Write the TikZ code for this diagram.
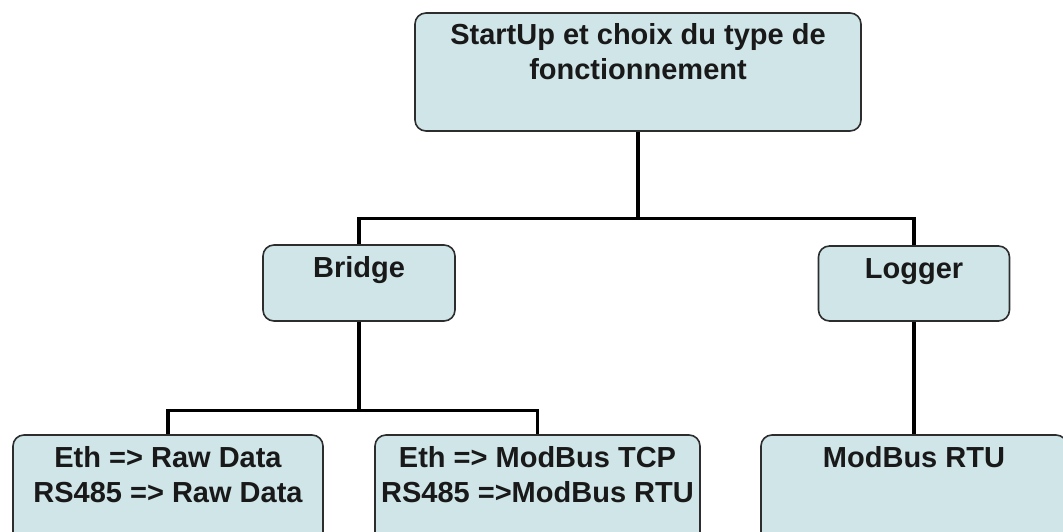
\documentclass[tikz,border=0pt]{standalone}
\usepackage{fontspec}
\setmainfont{Liberation Sans}
\definecolor{boxfill}{RGB}{207,229,232}
\definecolor{boxline}{RGB}{45,45,45}
\newcommand{\bxt}[3]{\parbox[c][#2][t]{#1}{\centering\rule{0pt}{32pt}#3}}
\tikzset{
  box/.style={draw=boxline, line width=1.6pt, fill=boxfill, rounded corners=11pt,
    inner sep=0pt, text=black!90, font=\bfseries\fontsize{29}{35}\selectfont},
  conn/.style={line width=3.3pt, black}
}
\begin{document}
\begin{tikzpicture}[x=1pt,y=1pt]
\useasboundingbox (0,0) rectangle (1063,531);
\clip (0,0) rectangle (1063,531);
\node[box] (top) at (638,459) {\bxt{446pt}{118pt}{StartUp et choix du type de\\fonctionnement}};
\node[box] (bridge) at (359,248) {\bxt{192pt}{76pt}{Bridge}};
\node[box] (logger) at (914,247.5) {\bxt{191pt}{75pt}{Logger}};
\node[box] (raw) at (168,31) {\bxt{310pt}{130pt}{Eth => Raw Data\\RS485 => Raw Data}};
\node[box] (modbus) at (537.5,31) {\bxt{325pt}{130pt}{Eth => ModBus TCP\\RS485 =>ModBus RTU}};
\node[box] (rtu) at (914,31) {\bxt{306pt}{130pt}{ModBus RTU}};
\draw[conn] (top.south) -- ++(0,-87) coordinate (j1);
\draw[conn] (bridge.north) |- (j1) -| (logger.north);
\draw[conn] (bridge.south) -- ++(0,-89) coordinate (j2);
\draw[conn] (raw.north) |- (j2) -| (modbus.north);
\draw[conn] (logger.south) -- (rtu.north);
\end{tikzpicture}
\end{document}
